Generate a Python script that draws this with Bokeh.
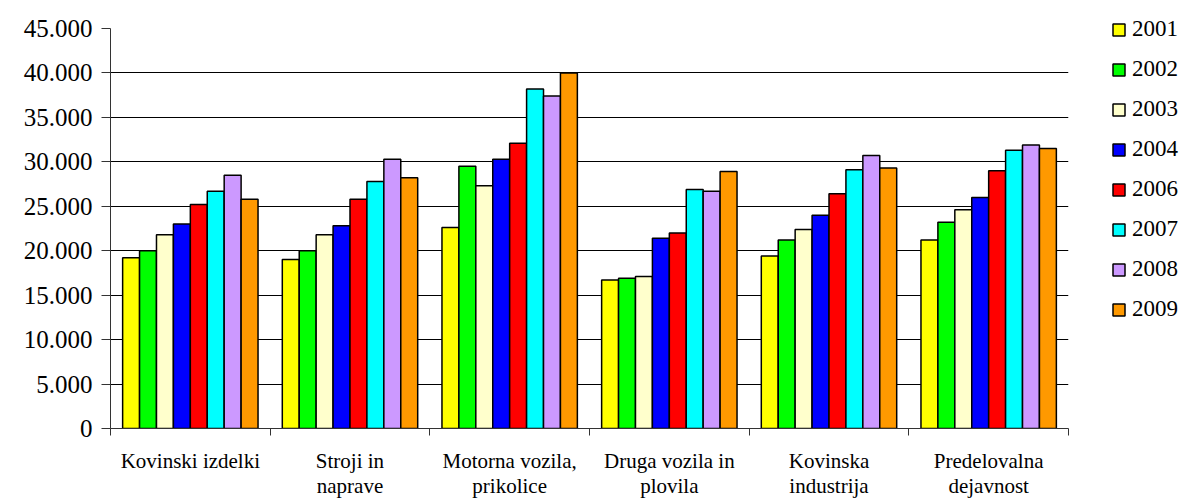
from bokeh.plotting import figure
from bokeh.models import Range1d, FixedTicker, Legend, LegendItem
from bokeh.embed import file_html
from bokeh.resources import INLINE

categories = ["Kovinski izdelki", "Stroji in\nnaprave", "Motorna vozila,\nprikolice",
              "Druga vozila in\nplovila", "Kovinska\nindustrija", "Predelovalna\ndejavnost"]
years = ["2001", "2002", "2003", "2004", "2006", "2007", "2008", "2009"]
colors = ["#FFFF00", "#00FF00", "#FFFFCC", "#0000FF", "#FF0000", "#00FFFF", "#CC99FF", "#FF9900"]

v2001 = [19200, 19000, 22600, 16700, 19400, 21200]
v2002 = [20000, 20000, 29500, 16900, 21200, 23200]
v2003 = [21800, 21800, 27300, 17100, 22400, 24600]
v2004 = [23000, 22800, 30300, 21400, 24000, 26000]
v2006 = [25200, 25800, 32100, 22000, 26400, 29000]
v2007 = [26700, 27800, 38200, 26900, 29100, 31300]
v2008 = [28500, 30300, 37400, 26700, 30700, 31900]
v2009 = [25800, 28200, 40000, 28900, 29300, 31500]
series = [v2001, v2002, v2003, v2004, v2006, v2007, v2008, v2009]

y_ticks = [0, 5000, 10000, 15000, 20000, 25000, 30000, 35000, 40000, 45000]
y_tick_labels = ["0", "5.000", "10.000", "15.000", "20.000", "25.000",
                 "30.000", "35.000", "40.000", "45.000"]

FONT = "Liberation Serif"

p = figure(output_backend="svg", toolbar_location=None,
           frame_width=958, frame_height=400,
           min_border_left=110, min_border_top=28, min_border_bottom=66, min_border_right=0,
           x_range=Range1d(0, len(categories)), y_range=Range1d(0, 45000))
p.outline_line_color = None
p.background_fill_color = "white"
p.border_fill_color = "white"

bar_w = 0.106
items = []
for j, (yr, col, vals) in enumerate(zip(years, colors, series)):
    xs = [i + 0.5 + (j - 3.5) * bar_w for i in range(len(categories))]
    r = p.vbar(x=xs, top=vals, width=bar_w, bottom=0, fill_color=col,
               line_color="black", line_width=1.5)
    items.append(LegendItem(label=yr, renderers=[r]))

# grid
p.xgrid.grid_line_color = None
p.ygrid.ticker = FixedTicker(ticks=y_ticks)
p.ygrid.grid_line_color = "black"
p.ygrid.grid_line_width = 1

# y axis
yax = p.yaxis[0]
yax.ticker = FixedTicker(ticks=y_ticks)
yax.major_label_overrides = {t: l for t, l in zip(y_ticks, y_tick_labels)}
yax.major_label_text_font = FONT
yax.major_label_text_font_size = "25px"
yax.major_label_text_color = "black"
yax.major_tick_out = 9
yax.major_tick_in = 0
yax.minor_tick_line_color = None
yax.axis_line_color = "#333333"
yax.major_tick_line_color = "#333333"
yax.major_label_standoff = 9

# x axis
xax = p.xaxis[0]
centers = [i + 0.5 for i in range(len(categories))]
bounds = list(range(len(categories) + 1))
xax.ticker = FixedTicker(ticks=centers, minor_ticks=bounds)
xax.major_label_overrides = {c: l for c, l in zip(centers, categories)}
xax.major_label_text_font = FONT
xax.major_label_text_font_size = "21px"
xax.major_label_text_line_height = 1.05
xax.major_label_text_color = "black"
xax.major_tick_out = 0
xax.major_tick_in = 0
xax.minor_tick_out = 7
xax.minor_tick_in = 0
xax.minor_tick_line_color = "#333333"
xax.axis_line_color = "#333333"
xax.major_label_standoff = 13

legend = Legend(items=items, location=(43, 106), orientation="vertical")
legend.label_text_font = FONT
legend.label_text_font_size = "23px"
legend.label_text_color = "black"
legend.glyph_width = 15
legend.glyph_height = 15
legend.label_standoff = 6
legend.spacing = 14
legend.padding = 0
legend.margin = 0
legend.border_line_color = None
legend.background_fill_alpha = 0
p.add_layout(legend, "right")

open("out.html", "w").write(file_html(p, INLINE))
